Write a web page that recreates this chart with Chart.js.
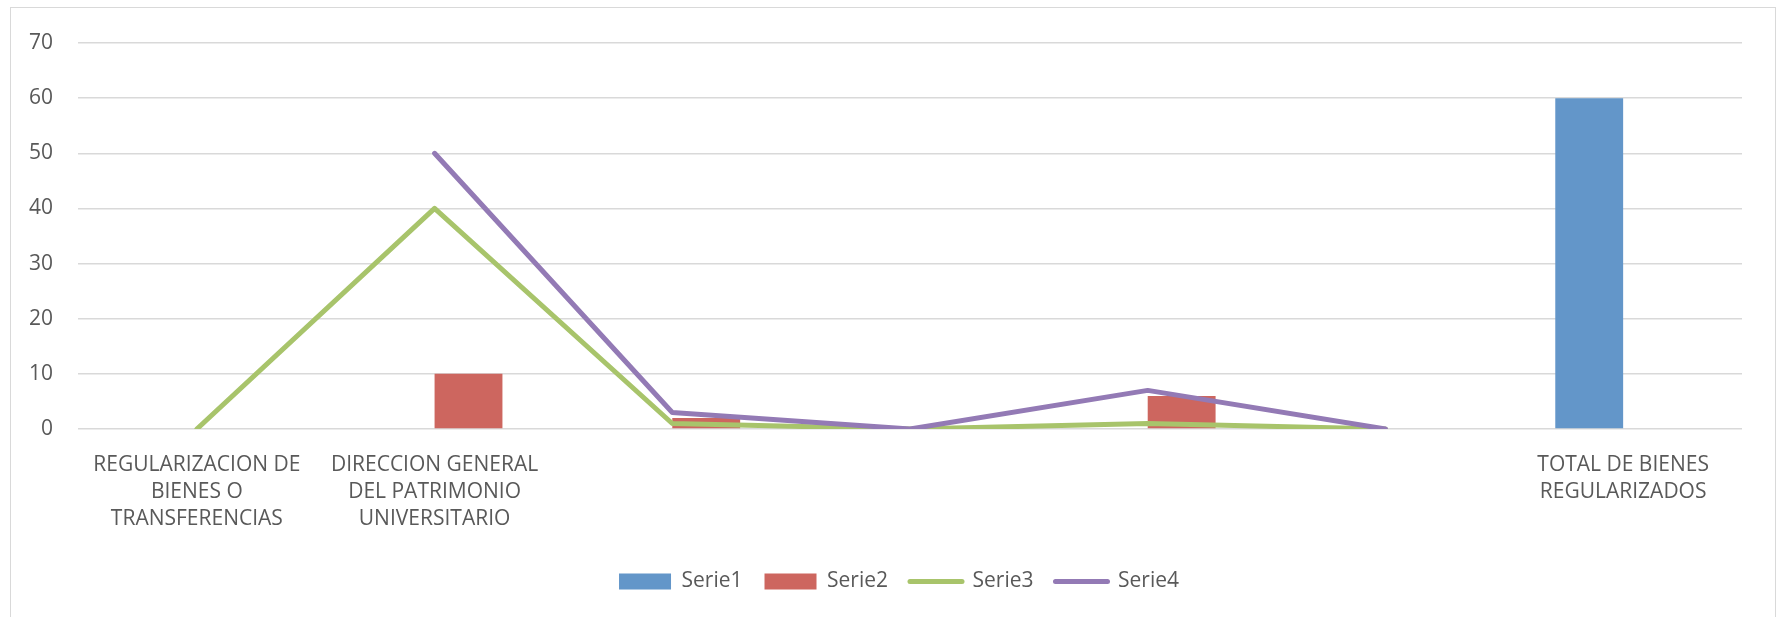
<!DOCTYPE html>
<html>
<head>
<meta charset="utf-8">
<script src="https://cdn.jsdelivr.net/npm/chart.js@4.4.1/dist/chart.umd.min.js"></script>
<style>
	html, body { margin: 0; padding: 0; background: #fff; }
	.frame { position: relative; width: 1781px; height: 617px; overflow: hidden; }
	.frame-border { position: absolute; left: 10px; top: 7px; width: 1766px; height: 620px; border: 1px solid #d9d9d9; box-sizing: border-box; }
	canvas { position: absolute; left: 0; top: 0; }
</style>
</head>
<body>
<div class="frame">
	<div class="frame-border"></div>
	<canvas id="chart" width="1781" height="617"></canvas>
</div>
<script>
const categories = [
	['REGULARIZACION DE', 'BIENES O', 'TRANSFERENCIAS'],
	['DIRECCION GENERAL', 'DEL PATRIMONIO', 'UNIVERSITARIO'],
	'',
	'',
	'',
	'',
	['TOTAL DE BIENES', 'REGULARIZADOS'],
];

const serie1 = [null, null, null, null, null, null, 60];
const serie2 = [null, 10, 2, null, 6, null, null];
const serie3 = [0, 40, 1, 0, 1, 0, null];
const serie4 = [null, 50, 3, 0, 7, 0, null];

const yTicks = [0, 10, 20, 30, 40, 50, 60, 70];

const textColor = '#595959';
const font = { family: '"Open Sans", sans-serif', size: 21 };

// the legend sits a bit right of the canvas centre
const legendShift = {
	id: 'legendShift',
	afterLayout: (chart) => {
		if (chart.legend) {
			chart.legend.left += 28;
			chart.legend.right += 28;
		}
	},
};

new Chart(document.getElementById('chart'), {
	type: 'bar',
	data: {
		labels: categories,
		datasets: [
			{
				label: 'Serie1',
				data: serie1,
				backgroundColor: '#6396c9',
				borderWidth: 0,
				order: 2,
			},
			{
				label: 'Serie2',
				data: serie2,
				backgroundColor: '#cd665f',
				borderWidth: 0,
				order: 3,
			},
			{
				type: 'line',
				label: 'Serie3',
				data: serie3,
				borderColor: '#a8c46b',
				backgroundColor: '#a8c46b',
				borderWidth: 5,
				borderCapStyle: 'round',
				borderJoinStyle: 'round',
				pointRadius: 0,
				pointHoverRadius: 0,
				order: 1,
			},
			{
				type: 'line',
				label: 'Serie4',
				data: serie4,
				borderColor: '#937ab5',
				backgroundColor: '#937ab5',
				borderWidth: 5,
				borderCapStyle: 'round',
				borderJoinStyle: 'round',
				pointRadius: 0,
				pointHoverRadius: 0,
				order: 0,
			},
		],
	},
	plugins: [legendShift],
	options: {
		responsive: false,
		animation: false,
		maintainAspectRatio: false,
		datasets: {
			bar: {
				categoryPercentage: 0.571,
				barPercentage: 1,
			},
		},
		layout: {
			padding: { top: 43, right: 39, bottom: 15, left: 0 },
		},
		plugins: {
			tooltip: { enabled: false },
			legend: {
				position: 'bottom',
				labels: {
					color: textColor,
					font,
					usePointStyle: true,
					pointStyleWidth: 52,
					boxHeight: 16,
					padding: 22,
					generateLabels: (chart) => {
						const items = Chart.defaults.plugins.legend.labels.generateLabels(chart);

						items.forEach((item) => {
							const dataset = chart.data.datasets[item.datasetIndex];

							if (dataset.type === 'line') {
								item.pointStyle = 'line';
								item.lineWidth = 5;
								item.lineCap = 'round';
							} else {
								item.pointStyle = 'rect';
								item.lineWidth = 0;
							}
						});

						return items.sort((a, b) => a.datasetIndex - b.datasetIndex);
					},
				},
			},
		},
		scales: {
			x: {
				offset: true,
				grid: { display: false, drawTicks: false },
				border: { display: false },
				ticks: {
					color: textColor,
					font: { ...font, lineHeight: 1.3 },
					padding: 22,
					maxRotation: 0,
					autoSkip: false,
				},
				afterFit: (scale) => {
					scale.height = 120;
				},
			},
			y: {
				min: 0,
				max: 70,
				afterBuildTicks: (scale) => {
					scale.ticks = yTicks.map((value) => ({ value }));
				},
				grid: {
					color: '#d9d9d9',
					lineWidth: 1.5,
					drawTicks: false,
				},
				border: { display: false },
				ticks: {
					color: textColor,
					font,
					padding: 25,
				},
				afterFit: (scale) => {
					scale.width = 78;
				},
			},
		},
	},
});
</script>
</body>
</html>
